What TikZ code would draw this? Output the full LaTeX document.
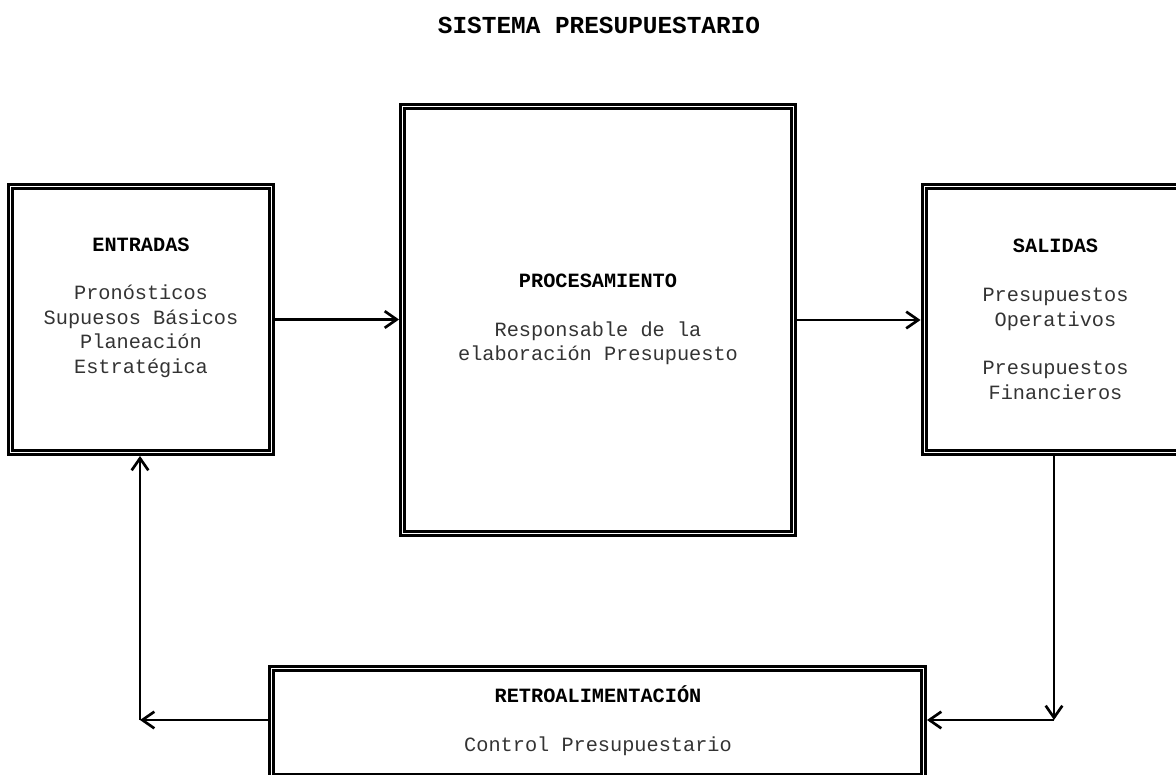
\documentclass[tikz,border=0pt]{standalone}
\usepackage{fontspec}
\setmainfont{Liberation Mono}
\usetikzlibrary{arrows.meta}
\begin{document}
\begin{tikzpicture}[x=0.75pt,y=-0.75pt,
  box/.style={draw, double, line width=2.25pt, double distance=0.75pt,
    rectangle, inner sep=0pt, outer sep=2.6pt},
  txt/.style={align=center, inner sep=0pt, text=black!80, font=\fontsize{15.2pt}{18.3pt}\selectfont},
  arr/.style={line width=2pt, -{Straight Barb[length=9pt,width=12.5pt,line width=2pt]}}]
\useasboundingbox (0,0) rectangle (1176,774);
\clip (0,0) rectangle (1176,774);

\node[inner sep=0pt, font=\fontsize{18.3pt}{22pt}\selectfont\bfseries] (title) at (599,25) {SISTEMA PRESUPUESTARIO};

\node[box, minimum width=195.75pt, minimum height=199.5pt] (ent) at (141,319.5) {};
\node[box, minimum width=293.25pt, minimum height=320.25pt] (proc) at (598,320) {};
\node[box, minimum width=199.5pt, minimum height=199.5pt] (sal) at (1057,319.5) {};
\node[box, minimum width=489pt, minimum height=81pt] (ret) at (597.5,722.5) {};

\node[txt] (entt) at (141,307.5) {\textcolor{black}{\textbf{ENTRADAS}}\\[18.3pt]Pronósticos\\Supuesos Básicos\\Planeación\\Estratégica};
\node[txt] (proct) at (598,319.5) {\textcolor{black}{\textbf{PROCESAMIENTO}}\\[18.3pt]Responsable de la\\elaboración Presupuesto};
\node[txt] (salt) at (1055.5,319.5) {\textcolor{black}{\textbf{SALIDAS}}\\[18.3pt]Presupuestos\\Operativos\\[18.3pt]Presupuestos\\Financieros};
\node[txt] (rett) at (598,720.5) {\textcolor{black}{\textbf{RETROALIMENTACIÓN}}\\[18.3pt]Control Presupuestario};

\coordinate (c1) at (1054,720);
\coordinate (c2) at (140,720);

\draw[arr] (ent.east) -- (proc.west |- ent.east);
\draw[arr] (proc.east) -- (sal.west |- proc.east);
\draw[arr] (c1 |- sal.south) -- (c1);
\draw[arr] (c1) -- (ret.east |- c1);
\draw[arr] (ret.west |- c2) -- (c2);
\draw[arr] (c2) -- (c2 |- ent.south);
\end{tikzpicture}
\end{document}
